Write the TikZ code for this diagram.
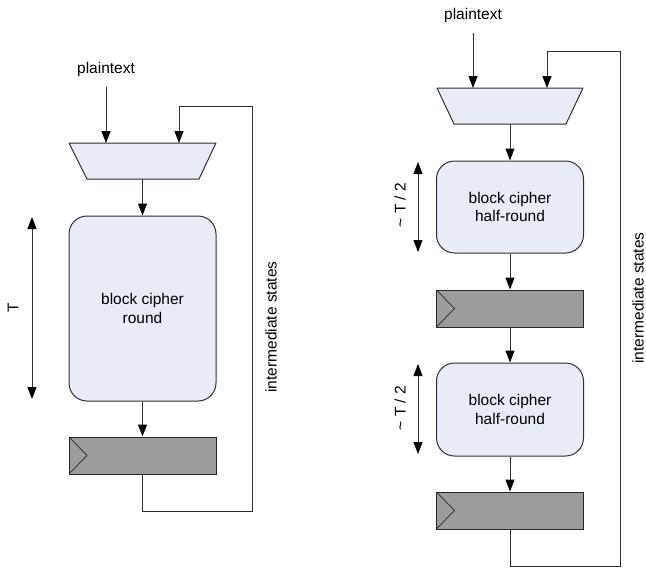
\documentclass[tikz,border=0pt]{standalone}
\usepackage{fontspec}
\setmainfont{Liberation Sans}
\usetikzlibrary{arrows.meta,calc}
\definecolor{linegray}{HTML}{303030}
\definecolor{boxfill}{HTML}{E8ECF7}
\definecolor{reggray}{HTML}{9C9C9C}
\begin{document}
\begin{tikzpicture}[x=1pt,y=-1pt, font=\fontsize{15.5}{18.5}\selectfont,
 line/.style={draw=linegray, line width=1pt},
 tip/.tip={Triangle[length=12pt,width=9pt,color=black,fill=black]},
 arr/.style={line, -tip},
 dbl/.style={line, tip-tip},
 lbl/.style={inner ysep=10.5pt, inner xsep=2pt},
 rlbl/.style={rotate=90, inner sep=0pt},
 muxshape/.style={fill=boxfill, draw=linegray, line width=1pt, line join=round},
 blk/.style={rectangle, rounded corners=18pt, fill=boxfill, draw=linegray, line width=1pt,
   minimum width=147pt, align=center, inner sep=0pt},
 reg/.style={rectangle, fill=reggray, draw=black!85, line width=1pt, minimum width=147pt, minimum height=37pt,
   path picture={\draw[black!85, line width=0.7pt] (path picture bounding box.north west) -- ([xshift=18pt]path picture bounding box.west) -- (path picture bounding box.south west);}},
]
\useasboundingbox (0,0) rectangle (646,568);

% ---------- left diagram ----------
\node[lbl] (pt1) at (106,69.5) {plaintext};
\draw[muxshape] (69,143) -- (216,143) -- (199,179) -- (87,179) -- cycle;
\coordinate (m1a) at (106,143);
\coordinate (m1c) at (179,143);
\coordinate (m1b) at (142.5,179);
\node[blk, minimum height=185pt] (b1) at (142.5,308.5) {block cipher\\round};
\node[reg] (r1) at (142.5,455.5) {};
\coordinate (c1) at (252,511);
\coordinate (c2) at (252,106);

\draw[arr] (pt1.south) -- (m1a);
\draw[arr] (m1b) -- (b1.north);
\draw[arr] (b1.south) -- (r1.north);
\draw[arr] (r1.south) |- (c1) -- (c2) -| (m1c);

\coordinate (t1a) at (32,217);
\coordinate (t1b) at (32,399);
\draw[dbl] (t1a) -- (t1b);
\node[rlbl] (tl) at (13,308) {T};
\node[rlbl] (is1) at (271,327) {intermediate states};

% ---------- right diagram ----------
\node[lbl] (pt2) at (473,15) {plaintext};
\draw[muxshape] (437,88) -- (583,88) -- (566,124) -- (454,124) -- cycle;
\coordinate (m2a) at (473,88);
\coordinate (m2c) at (547,88);
\coordinate (m2b) at (510,124);
\node[blk, minimum height=92pt] (b2) at (510,207) {block cipher\\half-round};
\node[reg] (r2) at (510,308.5) {};
\node[blk, minimum height=93pt] (b3) at (510,409.5) {block cipher\\half-round};
\node[reg] (r3) at (510,510.5) {};
\coordinate (c3) at (620,566);
\coordinate (c4) at (620,51);

\draw[arr] (pt2.south) -- (m2a);
\draw[arr] (m2b) -- (b2.north);
\draw[arr] (b2.south) -- (r2.north);
\draw[arr] (r2.south) -- (b3.north);
\draw[arr] (b3.south) -- (r3.north);
\draw[arr] (r3.south) |- (c3) -- (c4) -| (m2c);

\coordinate (t2a) at (418,162);
\coordinate (t2b) at (418,252);
\coordinate (t3a) at (418,364);
\coordinate (t3b) at (418,454);
\draw[dbl] (t2a) -- (t2b);
\draw[dbl] (t3a) -- (t3b);
\node[rlbl] (th1) at (400,205) {\char`\~\ T / 2};
\node[rlbl] (th2) at (400,408) {\char`\~\ T / 2};
\node[rlbl] (is2) at (638,298) {intermediate states};
\end{tikzpicture}
\end{document}
